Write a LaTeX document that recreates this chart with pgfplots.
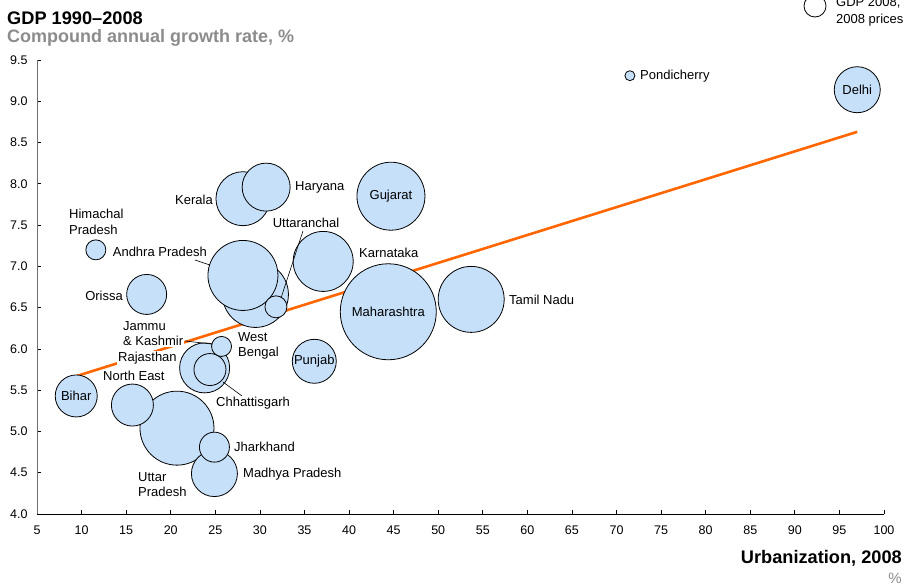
\documentclass[border=0pt]{standalone}
\usepackage{pgfplots}
\pgfplotsset{compat=1.18}
\usepackage{fontspec}
\setmainfont{Liberation Sans}

\definecolor{bubble}{RGB}{198,224,250}
\definecolor{trend}{RGB}{255,102,0}
\definecolor{subgray}{RGB}{140,140,140}
\definecolor{axisgray}{RGB}{110,110,110}

\newcommand{\lbl}{\fontsize{13}{15.5}\selectfont}

\begin{document}
\begin{tikzpicture}
\path[use as bounding box] (0pt,0pt) rectangle (920pt,-585pt);
\clip (0pt,0pt) rectangle (920pt,-585pt);

% titles
\node[anchor=west, inner sep=0pt, font=\fontsize{18.2}{21}\selectfont\bfseries] at (7pt,-18pt) {GDP 1990–2008};
\node[anchor=west, inner sep=0pt, text=subgray, font=\fontsize{18}{21}\selectfont\bfseries] at (7pt,-38pt) {Compound annual growth rate, \%};

\begin{axis}[
    at={(37pt,-514pt)}, anchor=south west,
    scale only axis, width=847pt, height=454pt,
    xmin=5, xmax=100, ymin=4, ymax=9.5,
    xtick={5,10,15,20,25,30,35,40,45,50,55,60,65,70,75,80,85,90,95,100},
    ytick={4,4.5,5,5.5,6,6.5,7,7.5,8,8.5,9,9.5},
    axis x line*=bottom, axis y line*=left,
    x axis line style={black, line width=1pt, -},
    y axis line style={axisgray, line width=1pt, -},
    tick align=inside, major tick length=4pt,
    tick style={black, line width=0.7pt},
    tick label style={font=\fontsize{12.5}{14}\selectfont},
    /pgf/number format/assume math mode=true,
    yticklabel style={/pgf/number format/.cd, fixed, fixed zerofill, precision=1},
    xticklabel shift=8pt, yticklabel shift=6pt,
    clip=false,
]

% bubbles: urbanization %, growth %, radius (px)
\addplot[scatter, only marks, mark=*,
    scatter/use mapped color={draw=black, fill=bubble},
    visualization depends on={\thisrow{r} \as \rad},
    scatter/@pre marker code/.append style={/tikz/mark size=\rad pt},
    mark options={line width=0.8pt}]
table {
x     y     r
44.4  6.45  48
29.5  6.66  33
28.1  6.89  35
20.7  5.04  37
53.7  6.60  33
44.7  7.85  34
37.1  7.06  30
28.1  7.82  27
30.7  7.96  24
23.8  5.77  25
24.9  4.49  23
97.0  9.14  23
36.1  5.85  22
9.4   5.43  21
15.7  5.32  21
17.3  6.66  20
24.4  5.75  16
24.9  4.81  15
31.8  6.51  11
25.7  6.03  10
11.6  7.20  10
71.5  9.31  5
};

% trend line
\addplot[trend, line width=2.6pt, no marks] coordinates {(9.4,5.67) (97.0,8.63)};

% label anchors
\coordinate (Pon) at (axis cs:72.52,9.306);
\coordinate (Del) at (axis cs:97.0,9.14);
\coordinate (Guj) at (axis cs:44.7,7.85);
\coordinate (Har) at (axis cs:33.82,7.961);
\coordinate (Ker) at (axis cs:24.85,7.804);
\coordinate (Him) at (axis cs:8.48,7.537);
\coordinate (And) at (axis cs:24.18,7.174);
\coordinate (Utt) at (axis cs:35.17,7.525);
\coordinate (Kar) at (axis cs:41.0,7.162);
\coordinate (Ori) at (axis cs:14.76,6.641);
\coordinate (Mah) at (axis cs:44.4,6.45);
\coordinate (Tam) at (axis cs:57.83,6.592);
\coordinate (JK)  at (axis cs:14.53,6.187);
\coordinate (WB)  at (axis cs:27.43,6.035);
\coordinate (Raj) at (axis cs:13.97,5.890);
\coordinate (NE)  at (axis cs:12.29,5.672);
\coordinate (Bih) at (axis cs:9.4,5.43);
\coordinate (Chh) at (axis cs:24.96,5.345);
\coordinate (Pun) at (axis cs:36.1,5.85);
\coordinate (Jha) at (axis cs:26.98,4.812);
\coordinate (MP)  at (axis cs:27.99,4.485);
\coordinate (UP)  at (axis cs:16.22,4.357);
% leader line ends
\coordinate (a1) at (axis cs:22.72,7.077); \coordinate (a2) at (axis cs:24.40,7.016);
\coordinate (u1) at (axis cs:34.83,7.428); \coordinate (u2) at (axis cs:32.37,6.617);
\coordinate (j1) at (axis cs:21.60,6.096); \coordinate (j2) at (axis cs:24.63,6.059);
\coordinate (c1) at (axis cs:25.86,5.599); \coordinate (c2) at (axis cs:27.99,5.430);
\end{axis}

% leader lines
\draw[black, line width=0.6pt] (a1) -- (a2);
\draw[black, line width=0.6pt] (u1) -- (u2);
\draw[black, line width=0.6pt] (j1) -- (j2);
\draw[black, line width=0.6pt] (c1) -- (c2);

% labels
\begin{scope}[every node/.style={font=\lbl, inner sep=1pt}]
\node[anchor=west] at (Pon) {Pondicherry};
\node at (Del) {Delhi};
\node at (Guj) {Gujarat};
\node[anchor=west] at (Har) {Haryana};
\node[anchor=east] at (Ker) {Kerala};
\node[anchor=west, align=left] at (Him) {Himachal\\Pradesh};
\node[anchor=east] at (And) {Andhra Pradesh};
\node at (Utt) {Uttaranchal};
\node[anchor=west] at (Kar) {Karnataka};
\node[anchor=east] at (Ori) {Orissa};
\node at (Mah) {Maharashtra};
\node[anchor=west] at (Tam) {Tamil Nadu};
\node[anchor=west, align=left, fill=white] at (JK) {Jammu\\\& Kashmir};
\node[anchor=west, align=left] at (WB) {West\\Bengal};
\node[anchor=west, fill=white] at (Raj) {Rajasthan};
\node[anchor=west] at (NE) {North East};
\node at (Bih) {Bihar};
\node[anchor=west] at (Chh) {Chhattisgarh};
\node at (Pun) {Punjab};
\node[anchor=west] at (Jha) {Jharkhand};
\node[anchor=west] at (MP) {Madhya Pradesh};
\node[anchor=west, align=left] at (UP) {Uttar\\Pradesh};
\end{scope}

% axis title
\node[anchor=east, inner sep=0pt, font=\fontsize{18.2}{21}\selectfont\bfseries] at (902pt,-558pt) {Urbanization, 2008};
\node[anchor=base east, inner sep=0pt, text=subgray, font=\fontsize{15}{18}\selectfont] at (902pt,-583pt) {\%};

% size key (partly cut off at the top)
\draw[black, line width=0.8pt, fill=white] (815pt,-6pt) circle (11pt);
\node[anchor=west, align=left, inner sep=0pt, font=\fontsize{13}{17}\selectfont] at (836pt,-11.5pt) {GDP 2008,\\2008 prices};
\end{tikzpicture}
\end{document}
